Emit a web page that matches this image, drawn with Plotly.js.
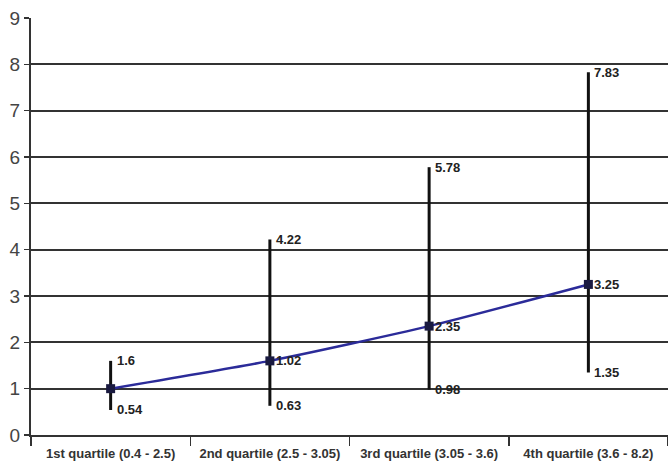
<!DOCTYPE html>
<html><head><meta charset="utf-8">
<script src="https://cdn.plot.ly/plotly-3.0.1.min.js"></script>
<style>html,body{margin:0;padding:0;background:#fff}#chart{width:668px;height:466px}</style>
</head><body><div id="chart"></div>
<script>
var categories = ["1st quartile (0.4 - 2.5)", "2nd quartile (2.5 - 3.05)", "3rd quartile (3.05 - 3.6)", "4th quartile (3.6 - 8.2)"];
var midValues = [1.0, 1.6, 2.35, 3.25];
var upperValues = [1.6, 4.22, 5.78, 7.83];
var lowerValues = [0.54, 0.63, 0.98, 1.35];
var upperLabels = ["1.6", "4.22", "5.78", "7.83"];
var midLabels = ["", "1.02", "2.35", "3.25"];
var lowerLabels = ["0.54", "0.63", "0.98", "1.35"];

var plus = midValues.map(function(v,i){return upperValues[i]-v;});
var minus = midValues.map(function(v,i){return v-lowerValues[i];});
var labelFont = {family:"Liberation Sans, Arial, sans-serif", size:13, color:"#222", weight:"bold"};

var traces = [
  {x:categories, y:midValues, type:"scatter", mode:"lines+markers",
   line:{color:"#2b2b99", width:2.5, shape:"spline", smoothing:0.6},
   marker:{symbol:"square", size:9, color:"#1a1a40"},
   error_y:{type:"data", symmetric:false, array:plus, arrayminus:minus, color:"#111", thickness:3, width:0},
   hoverinfo:"none"}
];

var annotations = [];
function addLabels(vals, labels){
  vals.forEach(function(v,i){
    if(!labels[i]) return;
    annotations.push({x:categories[i], y:v, xref:"x", yref:"y", text:labels[i], showarrow:false,
      xanchor:"left", yanchor:"middle", xshift:4, font:labelFont});
  });
}
addLabels(upperValues, upperLabels);
addLabels(midValues, midLabels);
addLabels(lowerValues, lowerLabels);

var layout = {
  width:668, height:466,
  margin:{l:31, r:0, t:18, b:31},
  paper_bgcolor:"#fff", plot_bgcolor:"#fff",
  showlegend:false,
  annotations:annotations,
  xaxis:{type:"category", range:[-0.5,3.5], tickson:"boundaries", ticks:"outside", ticklen:9, tickcolor:"#333", tickwidth:1.5,
         ticklabelstandoff:5,
         showgrid:false, showline:true, linecolor:"#333", linewidth:2, zeroline:false,
         tickfont:{family:"Liberation Sans, Arial, sans-serif", size:13, color:"#333", weight:"bold"}},
  yaxis:{range:[0,9], dtick:1, ticks:"outside", ticklen:5, tickcolor:"#333", tickwidth:1.5,
         showgrid:true, gridcolor:"#333", gridwidth:2, showline:true, linecolor:"#333", linewidth:2, zeroline:false,
         tickfont:{family:"Liberation Sans, Arial, sans-serif", size:19, color:"#444"}}
};
Plotly.newPlot("chart", traces, layout, {displayModeBar:false, staticPlot:true});
</script></body></html>
